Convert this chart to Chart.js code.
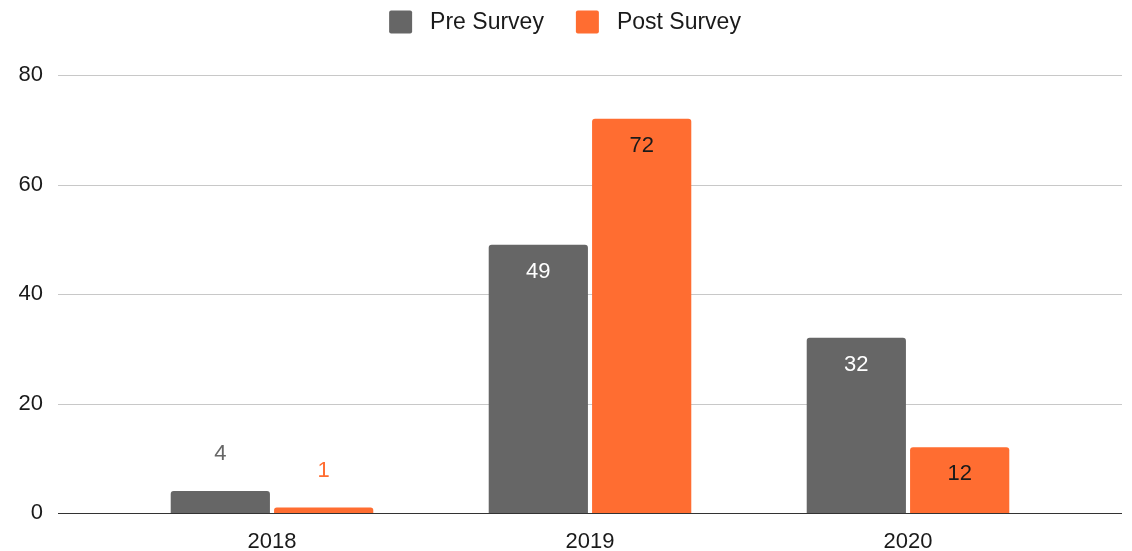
<!DOCTYPE html>
<html>
<head>
<meta charset="utf-8">
<script src="https://cdn.jsdelivr.net/npm/chart.js@4"></script>
<style>
  html,body{margin:0;padding:0;background:#fff}
  #wrap{width:1132px;height:551px}
</style>
</head>
<body>
<div id="wrap"><canvas id="c"></canvas></div>
<script>
const years = ["2018", "2019", "2020"];
const preSurvey = [4, 49, 32];
const postSurvey = [1, 72, 12];
const yTicks = [0, 20, 40, 60, 80];

const GREY = "#666666";
const ORANGE = "#ff6d31";
const TEXT = "#1a1a1a";
const FONT = "'Liberation Sans', Arial, sans-serif";

// horizontal grid lines run wider than the category area
const gridPlugin = {
  id: "wideGrid",
  beforeDatasetsDraw(chart){
    const {ctx, chartArea, scales} = chart;
    const x0 = chartArea.left - 55, x1 = chartArea.right + 55;
    ctx.save();
    yTicks.forEach(v => {
      const y = Math.round(scales.y.getPixelForValue(v)) + 0.5;
      ctx.strokeStyle = v === 0 ? "#333333" : "#c8c8c8";
      ctx.lineWidth = 1;
      ctx.beginPath();
      ctx.moveTo(x0, y);
      ctx.lineTo(x1, y);
      ctx.stroke();
    });
    ctx.restore();
  }
};

// value labels: inside the top of tall bars, above short ones
const labelPlugin = {
  id: "barLabels",
  afterDatasetsDraw(chart){
    const {ctx} = chart;
    ctx.save();
    ctx.font = `22px ${FONT}`;
    ctx.textAlign = "center";
    ctx.textBaseline = "middle";
    chart.data.datasets.forEach((ds, di) => {
      const meta = chart.getDatasetMeta(di);
      meta.data.forEach((bar, i) => {
        const h = bar.base - bar.y;
        let y, color;
        if(h > 40){
          y = bar.y + 27;
          color = di === 0 ? "#ffffff" : "#1a1a1a";
        }else{
          y = bar.y - 37;
          color = ds.backgroundColor;
        }
        ctx.fillStyle = color;
        ctx.fillText(String(ds.data[i]), bar.x, y);
      });
    });
    ctx.restore();
  }
};

// legend drawn by hand so the box/text gaps can match
const legendPlugin = {
  id: "topLegend",
  afterDraw(chart){
    const {ctx} = chart;
    const box = 23, gapText = 18, gapItem = 32;
    ctx.save();
    ctx.font = `23px ${FONT}`;
    ctx.textBaseline = "middle";
    ctx.textAlign = "left";
    const items = chart.data.datasets.map(ds => ({label: ds.label, color: ds.backgroundColor, w: ctx.measureText(ds.label).width}));
    let total = items.reduce((s, it) => s + box + gapText + it.w, 0) + gapItem * (items.length - 1);
    let x = 565 - total / 2;
    const cy = 22;
    items.forEach(it => {
      ctx.fillStyle = it.color;
      ctx.beginPath();
      ctx.roundRect(x, cy - box / 2, box, box, 2);
      ctx.fill();
      ctx.fillStyle = TEXT;
      ctx.fillText(it.label, x + box + gapText, cy + 1);
      x += box + gapText + it.w + gapItem;
    });
    ctx.restore();
  }
};

new Chart(document.getElementById("c"), {
  type: "bar",
  data: {
    labels: years,
    datasets: [
      {label: "Pre Survey", data: preSurvey, backgroundColor: GREY},
      {label: "Post Survey", data: postSurvey, backgroundColor: ORANGE}
    ]
  },
  options: {
    responsive: true,
    maintainAspectRatio: false,
    animation: false,
    layout: {padding: {left: 0, right: 65, top: 0, bottom: 0}},
    datasets: {
      bar: {
        categoryPercentage: 0.65,
        barPercentage: 0.96,
        borderRadius: {topLeft: 3, topRight: 3, bottomLeft: 0, bottomRight: 0},
        borderSkipped: "bottom"
      }
    },
    scales: {
      x: {
        grid: {display: false, drawTicks: false},
        border: {display: false},
        ticks: {color: TEXT, font: {family: FONT, size: 22}, padding: 16},
        afterFit: s => { s.height = 38; }
      },
      y: {
        min: 0, max: 80,
        afterBuildTicks: s => { s.ticks = yTicks.map(v => ({value: v})); },
        grid: {display: false, drawTicks: false},
        border: {display: false},
        ticks: {color: TEXT, font: {family: FONT, size: 22}, padding: 70},
        afterFit: s => { s.width = 113; s.paddingTop = 75; s.paddingBottom = 0; }
      }
    },
    plugins: {
      legend: {display: false},
      tooltip: {enabled: false}
    }
  },
  plugins: [gridPlugin, labelPlugin, legendPlugin]
});
</script>
</body>
</html>
